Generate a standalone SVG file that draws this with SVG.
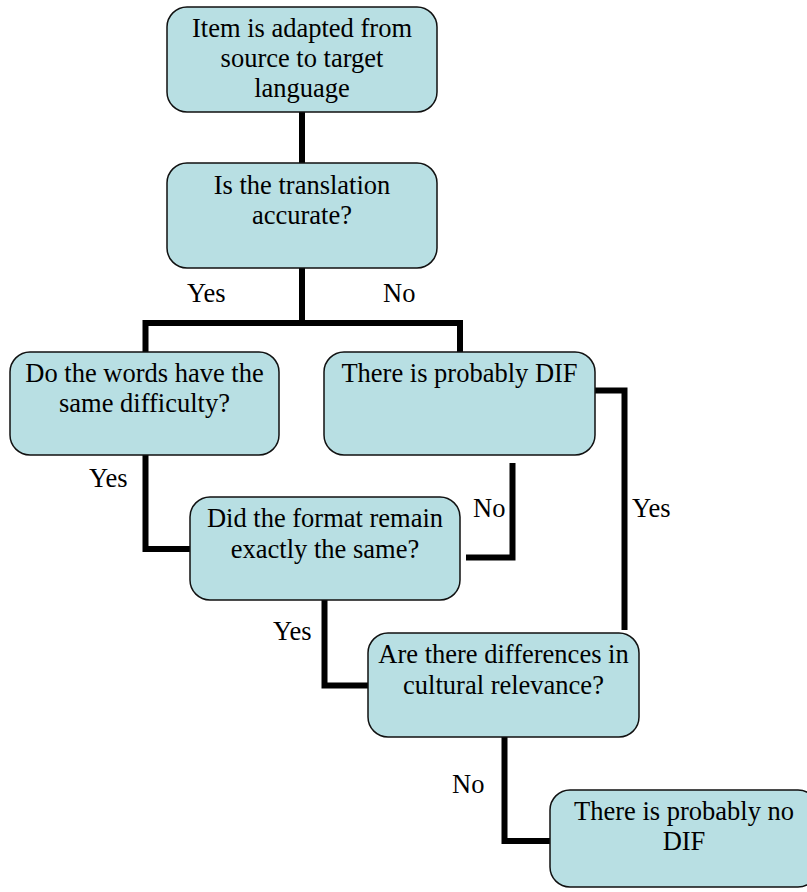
<svg xmlns="http://www.w3.org/2000/svg" width="807" height="892" viewBox="0 0 807 892">
<style>
.box{fill:#b8dfe3;stroke:#111;stroke-width:1.5}
.t{font-family:"Liberation Serif","Times New Roman",serif;font-size:26.5px;fill:#000;text-anchor:middle}
.l{font-family:"Liberation Serif","Times New Roman",serif;font-size:26.5px;fill:#000}
.c{fill:none;stroke:#000;stroke-width:6;stroke-linejoin:miter;stroke-linecap:butt}
</style>
<rect width="807" height="892" fill="#fff"/>
<g id="connectors">
<line class="c" x1="302" y1="112" x2="302" y2="163"/>
<line class="c" x1="302" y1="268" x2="302" y2="323"/>
<polyline class="c" points="145.5,352 145.5,323 460,323 460,352"/>
<polyline class="c" points="145.5,455 145.5,549 190,549"/>
<polyline class="c" points="595,390.5 624.5,390.5 624.5,630"/>
<polyline class="c" points="512.5,463 512.5,557.5 466,557.5"/>
<polyline class="c" points="324.5,600 324.5,685.5 369,685.5"/>
<polyline class="c" points="504.5,737 504.5,841 550,841"/>
<text class="l" x="187" y="302">Yes</text>
<text class="l" x="383" y="302">No</text>
<text class="l" x="89" y="487">Yes</text>
<text class="l" x="473" y="517">No</text>
<text class="l" x="632" y="517">Yes</text>
<text class="l" x="273" y="640">Yes</text>
<text class="l" x="452" y="793">No</text>
</g>
<g id="n1">
<rect class="box" x="167" y="7" width="270" height="105" rx="20"/>
<text class="t" x="302" y="37">Item is adapted from</text>
<text class="t" x="302" y="67">source to target</text>
<text class="t" x="302" y="97">language</text>
</g>
<g id="n2">
<rect class="box" x="167" y="163" width="270" height="105" rx="20"/>
<text class="t" x="302" y="194">Is the translation</text>
<text class="t" x="302" y="224">accurate?</text>
</g>
<g id="n3">
<rect class="box" x="10" y="352" width="269" height="103" rx="20"/>
<text class="t" x="144.5" y="382">Do the words have the</text>
<text class="t" x="144.5" y="412">same difficulty?</text>
</g>
<g id="n4">
<rect class="box" x="324" y="352" width="271" height="103" rx="20"/>
<text class="t" x="459.5" y="382">There is probably DIF</text>
</g>
<g id="n5">
<rect class="box" x="190" y="497" width="270" height="103" rx="20"/>
<text class="t" x="325" y="527">Did the format remain</text>
<text class="t" x="325" y="558">exactly the same?</text>
</g>
<g id="n6">
<rect class="box" x="368" y="633" width="271" height="104" rx="20"/>
<text class="t" x="503.5" y="663">Are there differences in</text>
<text class="t" x="503.5" y="694">cultural relevance?</text>
</g>
<g id="n7">
<rect class="box" x="550" y="790" width="268" height="97" rx="20"/>
<text class="t" x="684" y="820">There is probably no</text>
<text class="t" x="684" y="850">DIF</text>
</g>
</svg>
